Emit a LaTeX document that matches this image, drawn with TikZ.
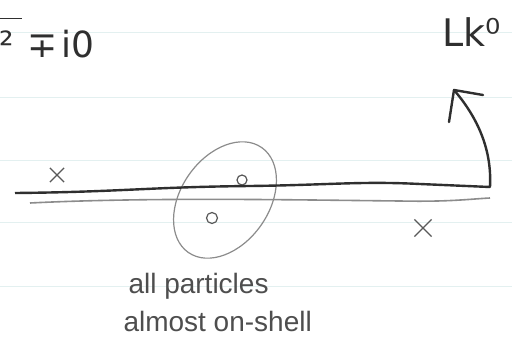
\documentclass[tikz,border=0pt]{standalone}
\usepackage{fontspec}
\setmainfont{Liberation Sans}
\newfontfamily\symbolfont{DejaVu Sans}
\usetikzlibrary{shapes.geometric, shapes.misc}
\definecolor{ink}{HTML}{2F2F2F}
\definecolor{pencil}{HTML}{8C8C8C}
\definecolor{ruling}{HTML}{E3F0F0}

\begin{document}
\begin{tikzpicture}[x=1pt, y=-1pt]
    \useasboundingbox (0,0) rectangle (512,343);
    \fill[white] (0,0) rectangle (512,343);
    % Paper lines
    \foreach \ly in {32,97,160,222,286}
        \draw[ruling, line width=1pt] (0,\ly) -- (512,\ly);

    % Nodes
    \node (prop) [anchor=west, inner sep=0pt, text=ink, font=\symbolfont\fontsize{36}{36}\selectfont] at (-4,38) {\rlap{\raisebox{39pt}{\rule{26pt}{1.2pt}}}\kern3pt ²\kern14pt ∓\kern4pt i0};
    \node (kzero) [text=ink, font=\symbolfont\fontsize{38}{38}\selectfont] at (472,32) {Lk⁰};
    \node (loop) [ellipse, draw=pencil, line width=1.2pt, minimum width=128, minimum height=88, inner sep=0pt, rotate=55] at (225,200) {};
    \node (dotup) [circle, draw=ink!80, line width=1.2pt, minimum size=10, inner sep=0pt] at (242,180) {};
    \node (dotdown) [circle, draw=ink!80, line width=1.2pt, minimum size=11, inner sep=0pt] at (212,218) {};
    \node (crossl) [cross out, draw=ink!80, line width=1.2pt, minimum size=13, inner sep=0pt] at (57,175) {};
    \node (crossr) [cross out, draw=ink!80, line width=1.2pt, minimum size=16, inner sep=0pt] at (423,228) {};
    \node (note) [anchor=west, align=left, text=ink!85, font=\fontsize{28}{38}\selectfont] at (120,302) {\kern5pt all particles\\almost on-shell};

    \coordinate (upleft) at (15,193);
    \coordinate (upright) at (490,187);
    \coordinate (tip) at (454,90);
    \coordinate (barbl) at (449,122);
    \coordinate (barbr) at (483,95);
    \coordinate (lowleft) at (30,203);
    \coordinate (lowright) at (490,198);

    % Lines
    \draw [ink, line width=2.4pt, line join=round] (upleft) .. controls (120,192) and (150,187) .. (250,186)
        .. controls (330,185) and (360,181) .. (420,184) -- (upright)
        .. controls (492,150) and (478,118) .. (tip);
    \draw [ink, line width=2.4pt, line cap=round, line join=round] (barbl) -- (tip) -- (barbr);
    \draw [pencil, line width=1.6pt] (lowleft) .. controls (150,197) and (300,200) .. (400,201)
        .. controls (450,202) and (470,199) .. (lowright);
\end{tikzpicture}
\end{document}
